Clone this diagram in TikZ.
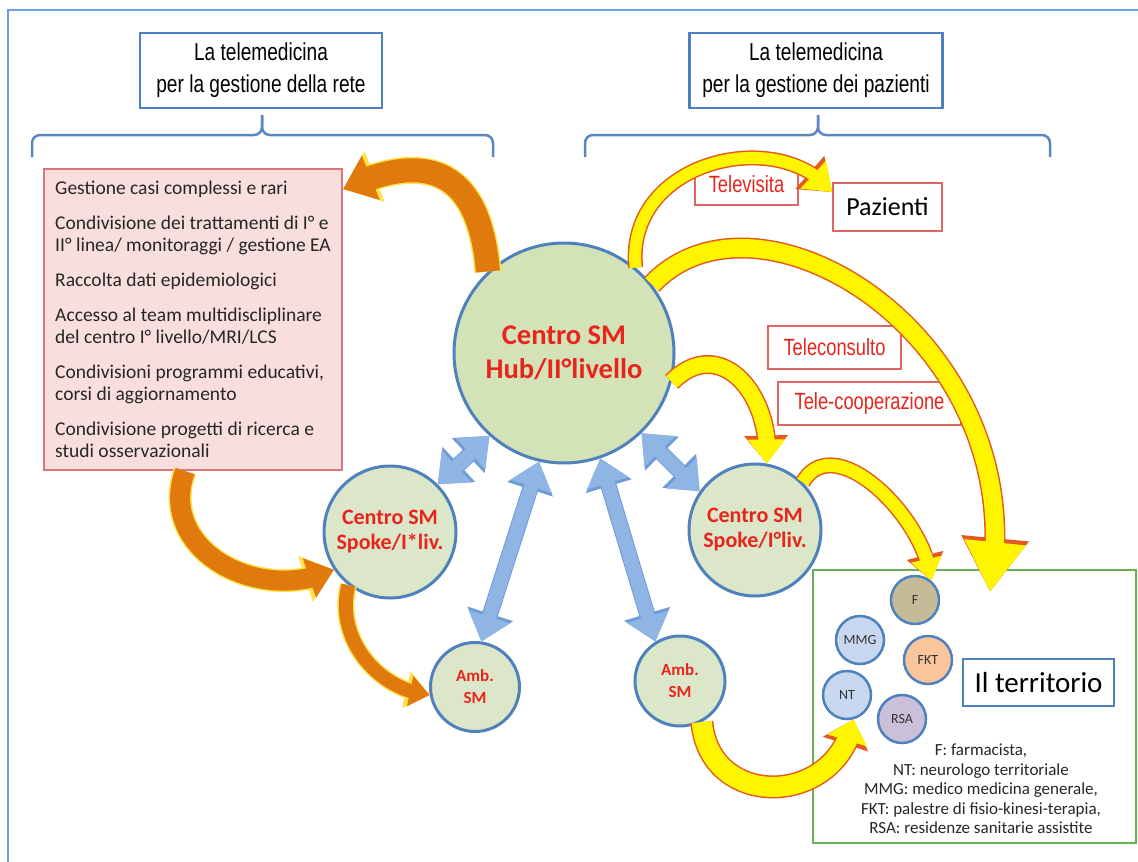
\documentclass[tikz,border=0pt]{standalone}
\usepackage{fontspec}
\setmainfont{Carlito}
\newfontfamily\arialn[FakeStretch=0.78]{Liberation Sans}
\usetikzlibrary{arrows.meta, bending}
\definecolor{mFrame}{HTML}{6D9EEB}
\definecolor{mSteel}{HTML}{4F81BD}
\definecolor{mBrace}{HTML}{5B87C0}
\definecolor{mPink}{HTML}{F9DEDE}
\definecolor{mPinkLine}{HTML}{D9777A}
\definecolor{mRedText}{HTML}{E8251D}
\definecolor{mBoxRed}{HTML}{E06666}
\definecolor{mHub}{HTML}{D4E2B8}
\definecolor{mSpoke}{HTML}{DCE7C9}
\definecolor{mGreenLine}{HTML}{6AAE55}
\definecolor{mTan}{HTML}{C4BC98}
\definecolor{mIce}{HTML}{C7D8F0}
\definecolor{mPeach}{HTML}{F8C59C}
\definecolor{mLilac}{HTML}{CBC0DA}
\definecolor{mBlueArr}{HTML}{8EB5E4}
\definecolor{mBlueEdge}{HTML}{6F9BD6}
\definecolor{mOrange}{HTML}{E07A0C}
\definecolor{mOrEdge}{HTML}{FFE24A}
\definecolor{mYellow}{HTML}{FFF500}
\definecolor{mYelEdge}{HTML}{E45A1E}

% curved block arrow: fill, edge, shaft, tip length, tip width, path
\newcommand\bandarrow[6]{%
  \pgfmathsetlengthmacro\edgew{#3+3pt}%
  \pgfmathsetlengthmacro\edgel{#4+4pt}%
  \pgfmathsetlengthmacro\edgeh{#5+6pt}%
  \draw[#2, line width=\edgew, -{Triangle[length=\edgel, width=\edgeh]}] #6;
  \draw[#1, line width=#3, -{Triangle[length=#4, width=#5]}] #6;
}
% same, with a tip at both ends
\newcommand\twinarrow[6]{%
  \pgfmathsetlengthmacro\edgew{#3+2pt}%
  \pgfmathsetlengthmacro\edgel{#4+3pt}%
  \pgfmathsetlengthmacro\edgeh{#5+4pt}%
  \draw[#2, line width=\edgew, {Triangle[length=\edgel, width=\edgeh]}-{Triangle[length=\edgel, width=\edgeh]}] #6;
  \draw[#1, line width=#3, {Triangle[length=#4, width=#5]}-{Triangle[length=#4, width=#5]}] #6;
}

\begin{document}
\begin{tikzpicture}[x=1pt, y=-1pt,
    hdr/.style={draw=mSteel, line width=2.5pt, minimum width=#1, minimum height=75pt,
      align=center, font=\arialn\fontsize{24.5}{32}\selectfont},
    brc/.style={draw=mBrace, line width=2.5pt, rounded corners=8pt},
    circ/.style={circle, draw=mSteel, line width=3pt, fill=mSpoke, inner sep=0pt,
      align=center, text=mRedText},
    dot/.style={circle, draw=mSteel, line width=2.5pt, minimum size=48pt, inner sep=0pt,
      text=black!80, font=\fontsize{14}{16}\selectfont},
    tele/.style={draw=mBoxRed, line width=1.3pt, inner sep=0pt, text=mRedText,
      font=\arialn\fontsize{23.5}{26}\selectfont}]
  \useasboundingbox (0,0) rectangle (1138,862);
  \draw[mFrame, line width=1.5pt] (8,862) -- (8,10) -- (1138,10);

  % the two headings and their brackets
  \node[hdr=242pt] (hrete) at (261,70.5) {La telemedicina\\per la gestione della rete};
  \node[hdr=253pt] (hpaz) at (816,70.5) {La telemedicina\\per la gestione dei pazienti};
  \draw[brc] (32,157) -- (32,135) -- (262,135) -- (262,115);
  \draw[brc] (262,115) -- (262,135) -- (493,135) -- (493,157);
  \draw[brc] (585,157) -- (585,135) -- (818,135) -- (818,115);
  \draw[brc] (818,115) -- (818,135) -- (1050,135) -- (1050,157);

  % network side
  \node[draw=mPinkLine, line width=2pt, fill=mPink, minimum width=298pt, minimum height=301pt,
    align=left, text=black!85, font=\fontsize{19.5}{22}\selectfont] (redbox) at (193,319.5)
    {Gestione casi complessi e rari\\[13pt]
     Condivisione dei trattamenti di I° e\\ II° linea/ monitoraggi / gestione EA\\[13pt]
     Raccolta dati epidemiologici\\[13pt]
     Accesso al team multidiscliplinare\\ del centro I° livello/MRI/LCS\\[13pt]
     Condivisioni programmi educativi,\\ corsi di aggiornamento\\[13pt]
     Condivisione progetti di ricerca e\\ studi osservazionali};

  \node[circ, fill=mHub, minimum size=220pt, font=\bfseries\fontsize{28.5}{34}\selectfont]
    (hub) at (564,353) {Centro SM\\Hub/II°livello};
  \node[circ, minimum size=132pt, font=\bfseries\fontsize{22}{25}\selectfont]
    (spokeL) at (390,532) {Centro SM\\Spoke/I*liv.};
  \node[circ, minimum size=132pt, font=\bfseries\fontsize{22}{25}\selectfont]
    (spokeR) at (755,530) {Centro SM\\Spoke/I°liv.};
  \node[circ, minimum size=89pt, font=\bfseries\fontsize{17}{22}\selectfont]
    (ambL) at (475,687) {Amb.\\SM};
  \node[circ, minimum size=90pt, font=\bfseries\fontsize{17}{22}\selectfont]
    (ambR) at (680,681) {Amb.\\SM};

  % patients side
  \node[tele, minimum width=103pt, minimum height=42pt] (televisita) at (746.5,184) {Televisita};
  \node[draw=mBoxRed, line width=1.3pt, minimum width=109pt, minimum height=48pt, inner sep=0pt,
    font=\fontsize{26}{28}\selectfont] (pazienti) at (887.5,207) {Pazienti};
  \node[tele, minimum width=133pt, minimum height=43pt] (teleconsulto) at (834.5,347.5) {Teleconsulto};
  \node[tele, minimum width=183pt, minimum height=43pt] (telecoop) at (869.5,403.5) {Tele-cooperazione};

  % territory
  \node[draw=mGreenLine, line width=1.5pt, minimum width=323pt, minimum height=273pt] (terr) at (974.5,706.5) {};
  \node[draw=mSteel, line width=2.5pt, minimum width=151pt, minimum height=47pt, inner sep=0pt,
    font=\fontsize{29}{30}\selectfont] (ilterr) at (1038.5,682.5) {Il territorio};
  \node[dot, fill=mTan] (f) at (915,600) {F};
  \node[dot, fill=mIce] (mmg) at (860,640) {MMG};
  \node[dot, fill=mPeach] (fkt) at (928,660) {FKT};
  \node[dot, fill=mIce] (nt) at (847,695) {NT};
  \node[dot, fill=mLilac] (rsa) at (902,719) {RSA};
  \node[align=center, text=black!85, font=\fontsize{17}{19.5}\selectfont] (legenda) at (981,789)
    {F: farmacista,\\NT: neurologo territoriale\\MMG: medico medicina generale,\\
     FKT: palestre di fisio-kinesi-terapia,\\RSA: residenze sanitarie assistite};
  \coordinate (terrin) at (990,592);

  % hub <-> centres
  \twinarrow{mBlueArr}{mBlueEdge}{14pt}{26pt}{42pt}{(hub.228) -- (spokeL.45)}
  \twinarrow{mBlueArr}{mBlueEdge}{14pt}{26pt}{42pt}{(hub.257) -- (ambL.82)}
  \twinarrow{mBlueArr}{mBlueEdge}{14pt}{26pt}{42pt}{(hub.289) -- (ambR.122)}
  \twinarrow{mBlueArr}{mBlueEdge}{14pt}{26pt}{42pt}{(hub.-46) -- (spokeR.145)}

  % orange flows
  \bandarrow{mOrange}{mOrEdge}{24pt}{30pt}{46pt}{(hub.133) to[out=95, in=25, looseness=1.5] (redbox.41)}
  \bandarrow{mOrange}{mOrEdge}{20pt}{26pt}{40pt}{(redbox.-93) to[out=-110, in=205, looseness=1.2] (spokeL.214)}
  \bandarrow{mOrange}{mOrEdge}{14pt}{20pt}{30pt}{(spokeL.232) to[out=-105, in=175] (ambL.190)}

  % yellow flows
  \bandarrow{mYellow}{mYelEdge}{12pt}{26pt}{36pt}{(hub.50) .. controls (625,160) and (780,125) .. (pazienti.165)}
  \bandarrow{mYellow}{mYelEdge}{18pt}{50pt}{58pt}{(hub.38) .. controls (760,170) and (1035,340) .. (terrin)}
  \bandarrow{mYellow}{mYelEdge}{16pt}{24pt}{36pt}{(hub.-15) to[out=45, in=85, looseness=1.4] (spokeR.80)}
  \bandarrow{mYellow}{mYelEdge}{13pt}{22pt}{30pt}{(spokeR.45) to[out=60, in=95] (f.50)}
  \bandarrow{mYellow}{mYelEdge}{20pt}{22pt}{40pt}{(ambR.-62) to[out=-85, in=-100, looseness=1.5] (nt.-75)}
\end{tikzpicture}
\end{document}
